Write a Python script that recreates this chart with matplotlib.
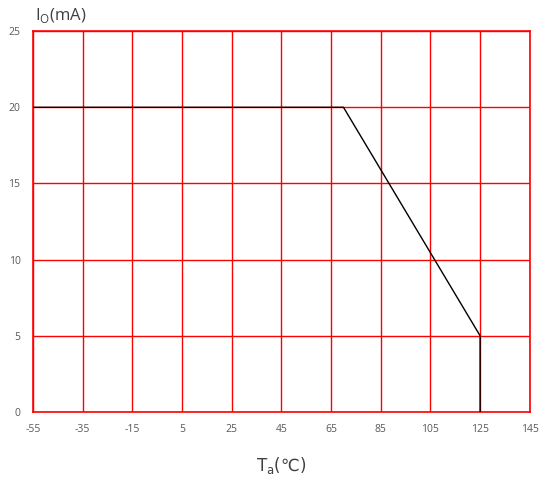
import matplotlib.pyplot as plt

plt.rcParams['font.family'] = ['Open Sans', 'DejaVu Sans']
plt.rcParams['axes.unicode_minus'] = False

# derating curve
temp = [-55, 70, 125, 125]
current = [20, 20, 5, 0]

xticks = [-55, -35, -15, 5, 25, 45, 65, 85, 105, 125, 145]
yticks = [0, 5, 10, 15, 20, 25]

fig = plt.figure(figsize=(5.49, 4.79), dpi=100)
ax = fig.add_axes([0.060, 0.140, 0.905, 0.795])

ax.plot(temp, current, color='black', linewidth=1.0, zorder=3)

ax.set_xlim(-55, 145)
ax.set_ylim(0, 25)
ax.set_xticks(xticks)
ax.set_yticks(yticks)
ax.grid(True, color='red', linewidth=1.0)
for s in ax.spines.values():
    s.set_color('red')
    s.set_linewidth(1.2)
ax.tick_params(length=0, labelsize=7.5, labelcolor='#595959', pad=9)

ax.text(-54, 25.4, r'I$_\mathregular{O}$(mA)', fontsize=12, color='#404040', ha='left', va='bottom')
ax.set_xlabel(r'T$_\mathregular{a}$(℃)', fontsize=12, color='#404040', labelpad=14,
              family=['DejaVu Sans'])

fig.savefig('out.png', dpi=100)
